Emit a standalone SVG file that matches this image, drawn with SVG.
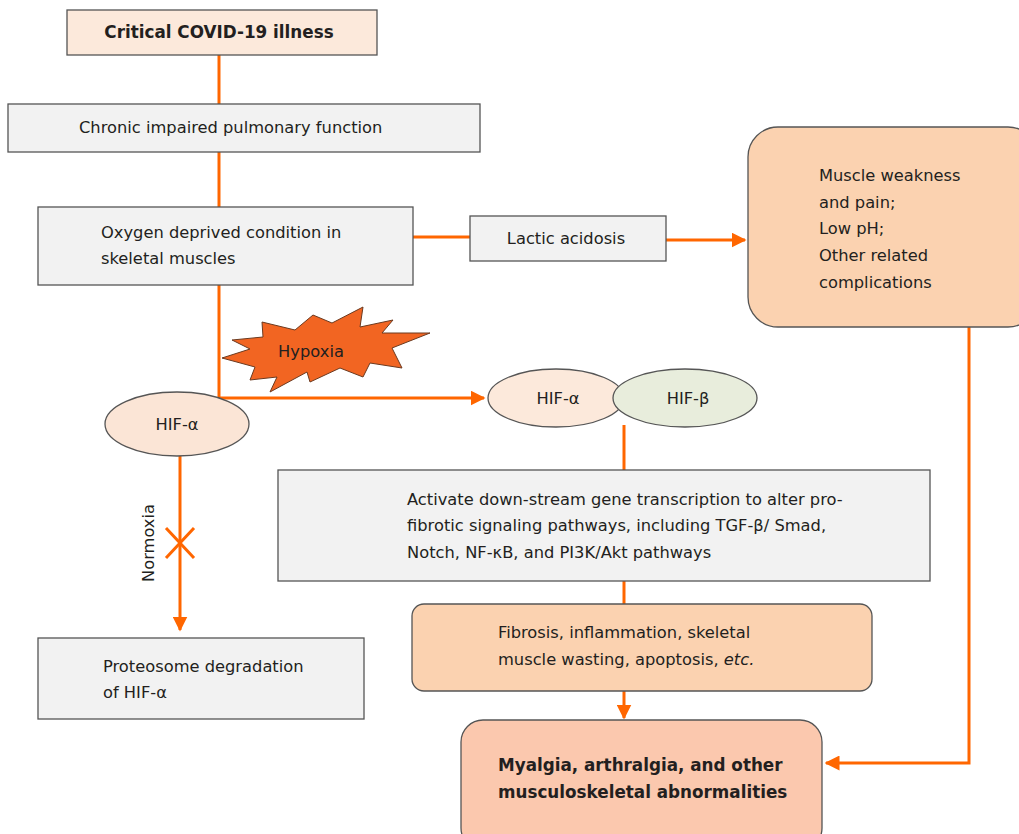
<svg xmlns="http://www.w3.org/2000/svg" width="1019" height="834" viewBox="0 0 1019 834">
<defs>
<style>
.t{font-family:"DejaVu Sans","Liberation Sans",sans-serif;font-size:16.3px;fill:#231f20}
.b{font-weight:bold;font-size:16.8px}
.box{stroke:#555;stroke-width:1.3}
.gray{fill:#f2f2f2}
.peach{fill:#fbd2b0}
.c{fill:none;stroke:#ff6600;stroke-width:3}
</style>
<marker id="ah" viewBox="0 0 10 10" refX="9" refY="5" markerWidth="5" markerHeight="5" orient="auto" markerUnits="strokeWidth">
<path d="M0,0 L10,5 L0,10 z" fill="#ff6600"/>
</marker>
</defs>
<rect width="1019" height="834" fill="#fff"/>
<g id="connectors">
<line class="c" x1="219" y1="55" x2="219" y2="104"/>
<line class="c" x1="219" y1="152" x2="219" y2="207"/>
<line class="c" x1="413" y1="237" x2="470" y2="237"/>
<line class="c" x1="666" y1="240" x2="745" y2="240" marker-end="url(#ah)"/>
<polyline class="c" points="969,327 969,763 826,763" marker-end="url(#ah)"/>
<polyline class="c" points="219,285 219,398 484,398" marker-end="url(#ah)"/>
<line class="c" x1="180" y1="456" x2="180" y2="630" marker-end="url(#ah)"/>
<line class="c" x1="624" y1="425" x2="624" y2="470"/>
<line class="c" x1="624" y1="581" x2="624" y2="604"/>
<line class="c" x1="624" y1="691" x2="624" y2="718" marker-end="url(#ah)"/>
</g>
<g id="normoxia-block">
<line x1="166" y1="528" x2="194" y2="558" stroke="#ff6600" stroke-width="3"/>
<line x1="194" y1="528" x2="166" y2="558" stroke="#ff6600" stroke-width="3"/>
<text class="t" transform="translate(148,543) rotate(-90)" text-anchor="middle" dominant-baseline="central" font-size="15">Normoxia</text>
</g>
<g id="critical">
<rect class="box" x="67" y="10" width="310" height="45" fill="#fce9db"/>
<text class="t b" x="219" y="38" text-anchor="middle">Critical COVID-19 illness</text>
</g>
<g id="pulmonary">
<rect class="box gray" x="8" y="104" width="472" height="48"/>
<text class="t" x="79" y="133">Chronic impaired pulmonary function</text>
</g>
<g id="oxygen">
<rect class="box gray" x="38" y="207" width="375" height="78"/>
<text class="t" x="101" y="238">Oxygen deprived condition in</text>
<text class="t" x="101" y="264">skeletal muscles</text>
</g>
<g id="lactic">
<rect class="box gray" x="470" y="216" width="196" height="45"/>
<text class="t" x="566" y="244" text-anchor="middle">Lactic acidosis</text>
</g>
<g id="muscle">
<rect class="box peach" x="748" y="127" width="290" height="200" rx="30"/>
<text class="t" x="819" y="181">Muscle weakness</text>
<text class="t" x="819" y="208">and pain;</text>
<text class="t" x="819" y="234">Low pH;</text>
<text class="t" x="819" y="261">Other related</text>
<text class="t" x="819" y="288">complications</text>
</g>
<g id="hypoxia">
<polygon points="222,358 250,349 232,340 263,337 262,322 295,330 313,315 332,323 363,307 360,327 393,320 382,333 430,333 392,348 402,368 370,363 363,377 340,368 310,382 307,372 270,392 277,377 250,380 255,367" fill="#f26522" stroke="#6b3a20" stroke-width="1"/>
<text class="t" x="311" y="357" text-anchor="middle">Hypoxia</text>
</g>
<g id="hif-alpha-left">
<ellipse class="box" cx="177" cy="424" rx="72" ry="32" fill="#fbe5d6"/>
<text class="t" x="177" y="430" text-anchor="middle">HIF-α</text>
</g>
<g id="hif-alpha-right">
<ellipse class="box" cx="556" cy="398" rx="68" ry="29" fill="#fce9db"/>
<text class="t" x="558" y="404" text-anchor="middle">HIF-α</text>
</g>
<g id="hif-beta">
<ellipse class="box" cx="685" cy="398" rx="72" ry="29" fill="#e8eddc"/>
<text class="t" x="688" y="404" text-anchor="middle">HIF-β</text>
</g>
<g id="activate">
<rect class="box gray" x="278" y="470" width="652" height="111"/>
<text class="t" x="407" y="505">Activate down-stream gene transcription to alter pro-</text>
<text class="t" x="407" y="531">fibrotic signaling pathways, including TGF-β/ Smad,</text>
<text class="t" x="407" y="558">Notch, NF-κB, and PI3K/Akt pathways</text>
</g>
<g id="proteosome">
<rect class="box gray" x="38" y="638" width="326" height="81"/>
<text class="t" x="103" y="672">Proteosome degradation</text>
<text class="t" x="103" y="698">of HIF-α</text>
</g>
<g id="fibrosis">
<rect class="box peach" x="412" y="604" width="460" height="87" rx="12"/>
<text class="t" x="498" y="638">Fibrosis, inflammation, skeletal</text>
<text class="t" x="498" y="665">muscle wasting, apoptosis, <tspan font-style="italic">etc.</tspan></text>
</g>
<g id="myalgia">
<rect class="box" x="461" y="720" width="361" height="130" rx="22" fill="#fbc8ae"/>
<text class="t b" x="498" y="771">Myalgia, arthralgia, and other</text>
<text class="t b" x="498" y="798">musculoskeletal abnormalities</text>
</g>
</svg>
